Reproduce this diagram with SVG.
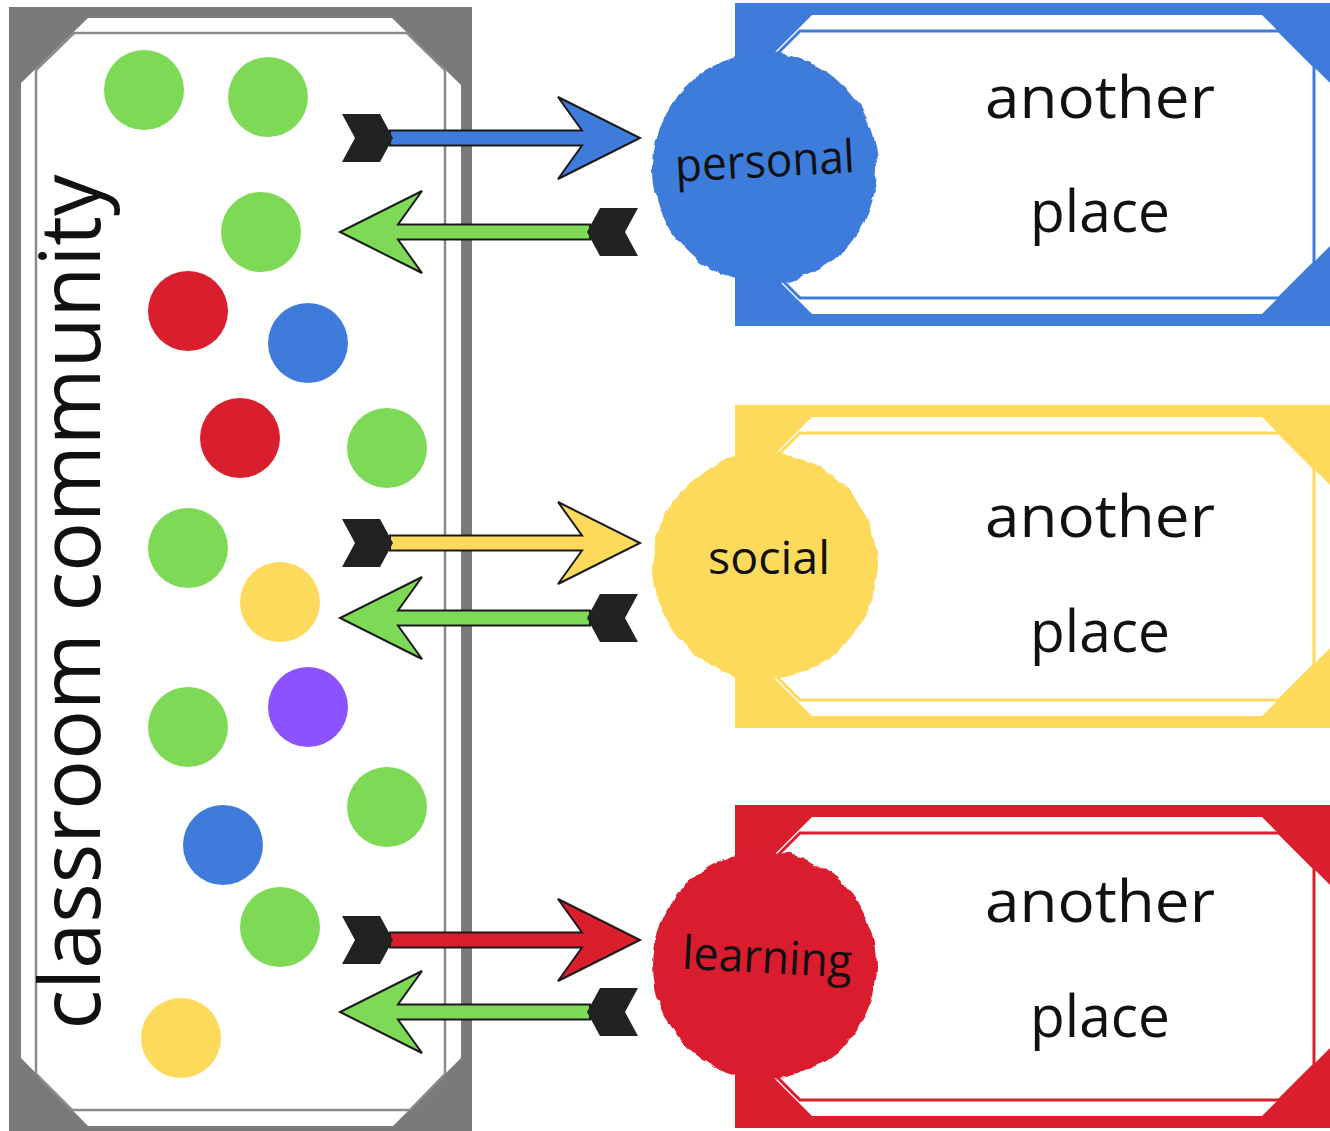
<svg xmlns="http://www.w3.org/2000/svg" xmlns:xlink="http://www.w3.org/1999/xlink" width="1330" height="1131" viewBox="0 0 1330 1131">
<defs>
<style>
.lbl{font-family:"Open Sans","Liberation Sans",sans-serif;fill:#111;}
.place{font-size:58px;}
.clabel{font-size:46px;}
.big{font-size:84px;}
.shaft{stroke:#1a1a1a;stroke-width:2;stroke-linejoin:miter;}
.fletch{fill:#222;stroke:none;}
.frame-line{fill:none;stroke:#8a8a8a;stroke-width:2.5;}
.card-line{fill:none;stroke-width:3;}
</style>
<filter id="rough" x="-10%" y="-10%" width="120%" height="120%">
<feTurbulence type="fractalNoise" baseFrequency="0.05" numOctaves="3" seed="4" result="n"/>
<feDisplacementMap in="SourceGraphic" in2="n" scale="8" xChannelSelector="R" yChannelSelector="G"/>
</filter>
<g id="arrowR">
<polygon class="shaft" points="390,-7.5 582,-7.5 558,-41 640,0 558,41 582,7.5 390,7.5"/>
<polygon class="fletch" points="342,-24 380,-24 393,0 380,24 342,24 355,0"/>
</g>
<g id="card">
<rect x="735" y="0" width="600" height="323" stroke="none"/>
<polygon points="812,12 1262,12 1345,95 1345,228 1262,311 812,311 750,249 750,74" fill="#ffffff" stroke="none"/>
<polygon class="card-line" points="800,28 1279,28 1314,63 1314,260 1279,295 800,295 776,271 776,52"/>
</g>
</defs>
<rect width="1330" height="1131" fill="#ffffff"/>

<g id="classroom-community">
<rect x="9" y="7" width="463" height="1124" fill="#7a7a7b"/>
<polygon points="88,18 392,18 461,85 461,1058 393,1126 88,1126 21,1058 21,83" fill="#ffffff"/>
<polygon class="frame-line" points="74,33 407,33 445,70 445,1074 410,1110 72,1110 36,1074 36,70"/>
<g id="dots">
<circle cx="144" cy="90" r="40" fill="#7ed957"/>
<circle cx="268" cy="97" r="40" fill="#7ed957"/>
<circle cx="261" cy="232" r="40" fill="#7ed957"/>
<circle cx="188" cy="311" r="40" fill="#d91e2e"/>
<circle cx="308" cy="343" r="40" fill="#3e7bdb"/>
<circle cx="240" cy="438" r="40" fill="#d91e2e"/>
<circle cx="387" cy="448" r="40" fill="#7ed957"/>
<circle cx="188" cy="548" r="40" fill="#7ed957"/>
<circle cx="280" cy="602" r="40" fill="#fdda5b"/>
<circle cx="188" cy="727" r="40" fill="#7ed957"/>
<circle cx="308" cy="707" r="40" fill="#8c52ff"/>
<circle cx="387" cy="807" r="40" fill="#7ed957"/>
<circle cx="223" cy="845" r="40" fill="#3e7bdb"/>
<circle cx="280" cy="927" r="40" fill="#7ed957"/>
<circle cx="181" cy="1038" r="40" fill="#fdda5b"/>
</g>
<text class="lbl big" transform="translate(100,602) rotate(-90)" text-anchor="middle" textLength="855" lengthAdjust="spacingAndGlyphs">classroom community</text>
</g>

<g id="node-personal">
<use xlink:href="#card" href="#card" y="3" fill="#3e7bdb" stroke="#3e7bdb"/>
<ellipse cx="765" cy="168" rx="112" ry="116" fill="#3e7bdb" filter="url(#rough)"/>
<text class="lbl clabel" x="765" y="177" text-anchor="middle" textLength="180" lengthAdjust="spacingAndGlyphs" transform="rotate(-3 765 165)">personal</text>
<text class="lbl place" x="1100" y="118" text-anchor="middle" textLength="230" lengthAdjust="spacingAndGlyphs">another</text>
<text class="lbl place" x="1100" y="232" text-anchor="middle" textLength="140" lengthAdjust="spacingAndGlyphs">place</text>
</g>

<g id="node-social">
<use xlink:href="#card" href="#card" y="405" fill="#fdda5b" stroke="#fdda5b"/>
<ellipse cx="765" cy="566" rx="112" ry="113" fill="#fdda5b" filter="url(#rough)"/>
<text class="lbl clabel" x="769" y="574" text-anchor="middle" textLength="122" lengthAdjust="spacingAndGlyphs">social</text>
<text class="lbl place" x="1100" y="537" text-anchor="middle" textLength="230" lengthAdjust="spacingAndGlyphs">another</text>
<text class="lbl place" x="1100" y="652" text-anchor="middle" textLength="140" lengthAdjust="spacingAndGlyphs">place</text>
</g>

<g id="node-learning">
<use xlink:href="#card" href="#card" y="805" fill="#d91e2e" stroke="#d91e2e"/>
<ellipse cx="765" cy="965" rx="112" ry="114" fill="#d91e2e" filter="url(#rough)"/>
<text class="lbl clabel" x="767" y="973" text-anchor="middle" textLength="170" lengthAdjust="spacingAndGlyphs" transform="rotate(3 767 962)">learning</text>
<text class="lbl place" x="1100" y="922" text-anchor="middle" textLength="230" lengthAdjust="spacingAndGlyphs">another</text>
<text class="lbl place" x="1100" y="1037" text-anchor="middle" textLength="140" lengthAdjust="spacingAndGlyphs">place</text>
</g>

<g id="connectors">
<use xlink:href="#arrowR" href="#arrowR" transform="translate(0,138)" fill="#3e7bdb"/>
<use xlink:href="#arrowR" href="#arrowR" transform="translate(980,232) scale(-1,1)" fill="#7ed957"/>
<use xlink:href="#arrowR" href="#arrowR" transform="translate(0,543)" fill="#fdda5b"/>
<use xlink:href="#arrowR" href="#arrowR" transform="translate(980,618) scale(-1,1)" fill="#7ed957"/>
<use xlink:href="#arrowR" href="#arrowR" transform="translate(0,940)" fill="#d91e2e"/>
<use xlink:href="#arrowR" href="#arrowR" transform="translate(980,1012) scale(-1,1)" fill="#7ed957"/>
</g>
</svg>
